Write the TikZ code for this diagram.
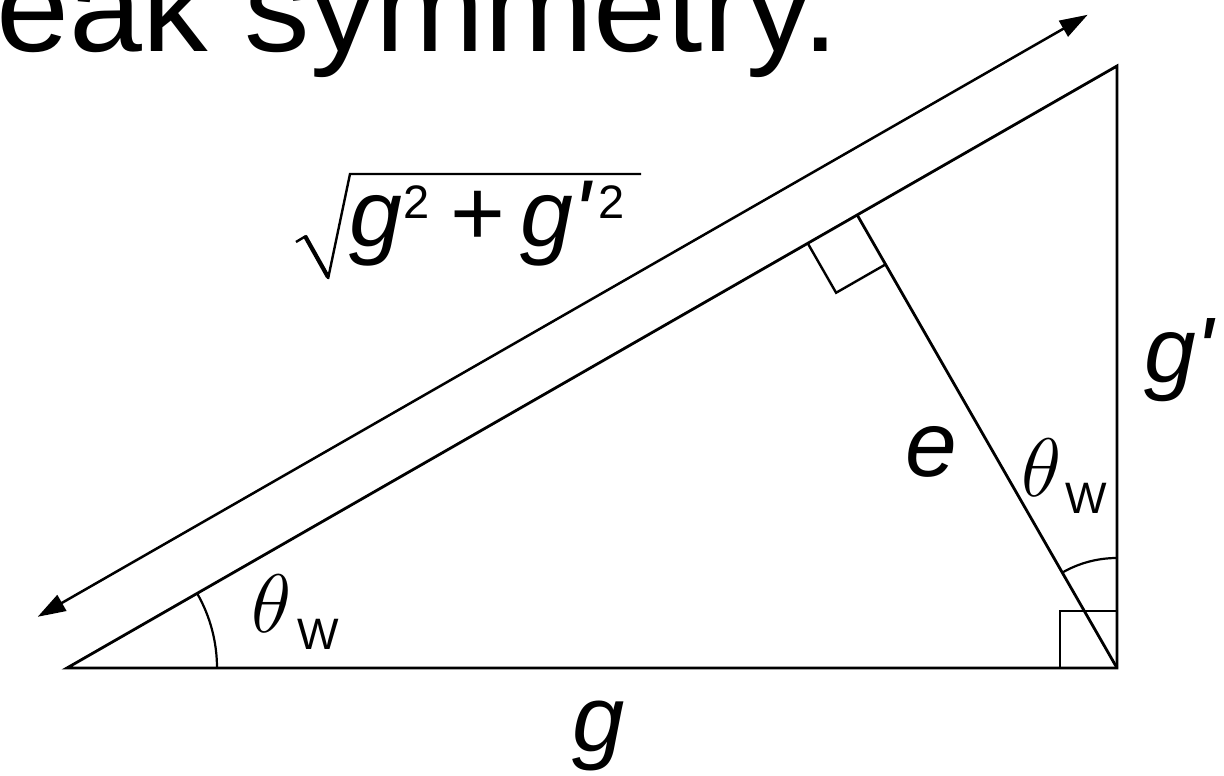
\RequirePackage{fix-cm}
\documentclass[tikz,border=0pt]{standalone}
\usepackage{graphicx}
\usepackage{fontspec}
\setmainfont{Liberation Sans}
\usetikzlibrary{calc,arrows.meta,angles}
\newcommand{\fsz}[1]{\fontsize{#1}{#1}\selectfont}
\tikzset{
  edge/.style={line width=2.8pt, line join=miter, line cap=butt},
  rmark/.style={line width=2.4pt, line join=miter},
  arcmark/.style={draw, line width=2.2pt, angle radius=#1},
  dimline/.style={line width=2.5pt, {Triangle[length=28pt,width=18pt]}-{Triangle[length=28pt,width=18pt]}},
  lbl/.style={inner sep=0pt, outer sep=0pt, anchor=base west},
}
\begin{document}
\begin{tikzpicture}[x=1pt,y=1pt]
\useasboundingbox (0,0) rectangle (1224,776);
\clip (0,0) rectangle (1224,776);
\fill[white] (0,0) rectangle (1224,776);
% clipped title text
\node[lbl] (title) at (-3,724) {\scalebox{1.04}[1]{\fsz{126}eak symmetry.}};
% triangle
\coordinate (A) at (67,108);
\coordinate (B) at (1117,108);
\coordinate (C) at (1117,710);
\coordinate (F) at ($(A)!(B)!(C)$);
\draw[edge] (A) -- (B) -- (C) -- cycle;
\draw[edge] (B) -- (F);
% right angle at B
\coordinate (B1) at ($(B)!57pt!(A)$);
\coordinate (B2) at ($(B)!57pt!(C)$);
\draw[rmark] (B1) -- ($(B1)+(B2)-(B)$) -- (B2);
% right angle at F
\coordinate (F1) at ($(F)!57pt!(A)$);
\coordinate (F2) at ($(F)!57pt!(B)$);
\draw[rmark] (F1) -- ($(F1)+(F2)-(F)$) -- (F2);
% angle arcs
\pic[arcmark=150pt] {angle = B--A--C};
\pic[arcmark=110pt] {angle = C--B--F};
% double arrow parallel to hypotenuse
\coordinate (P) at ($(A)!59pt!90:(C)$);
\coordinate (Q) at ($(C)!59pt!-90:(A)$);
\draw[dimline] (P) -- (Q);
% labels
\node[lbl] (lg) at (572,24) {\fsz{94}\textit{g}};
\node[lbl] (le) at (905,299) {\fsz{93}\textit{e}};
\node[lbl] (lgp) at (1144,393) {\fsz{93}\textit{g\textquotesingle}};
\node[lbl] (thA) at (251,143) {\fsz{83}$\theta$\hspace{6pt}\raisebox{-17pt}{\fsz{44}W}};
\node[lbl] (thB) at (1021,279) {\fsz{83}$\theta$\hspace{4pt}\raisebox{-17pt}{\fsz{44}W}};
% square-root label
\node[lbl] (r1) at (349,529) {\fsz{95}\textit{g}};
\node[lbl] (r2) at (403,557) {\fsz{47}2};
\node[lbl] (r3) at (450,530) {\fsz{94}+};
\node[lbl] (r4) at (520,529) {\fsz{95}\textit{g\textquotesingle}};
\node[lbl] (r5) at (598,557) {\fsz{47}2};
\draw[line width=2.4pt, line join=miter] (296,534) -- (306,540);
\draw[line width=4.2pt, line join=miter] (305,540) -- (328,499);
\draw[line width=2.4pt, line join=miter] (328,497) -- (350,602) -- (641,602);
\end{tikzpicture}
\end{document}
